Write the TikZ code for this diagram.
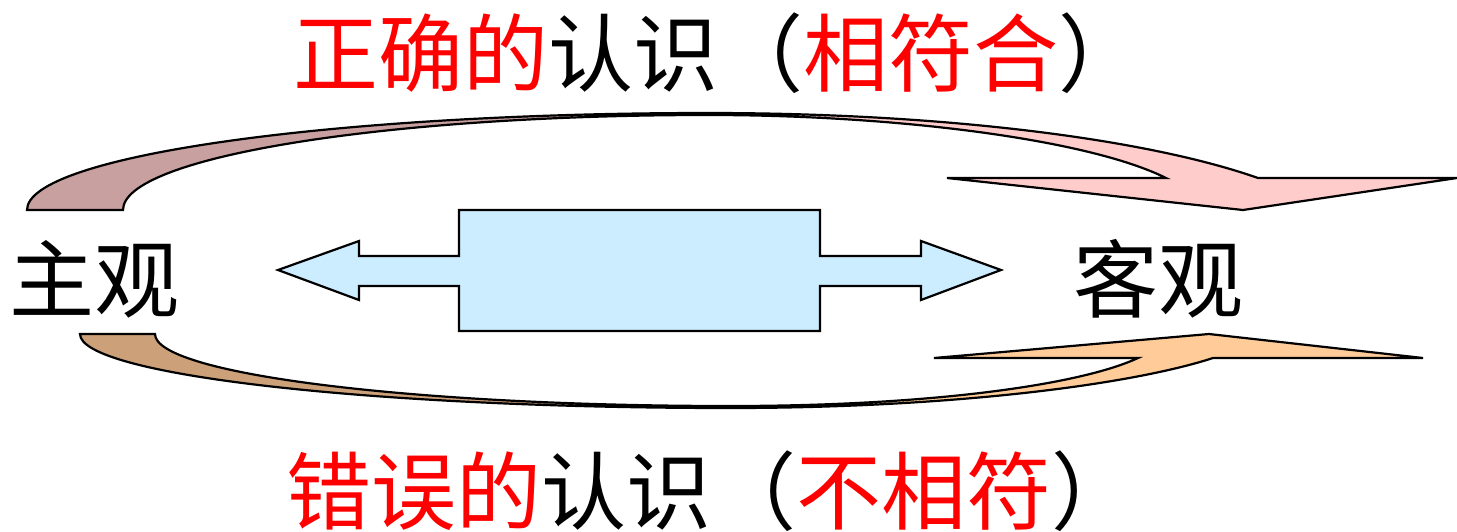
\documentclass[tikz,border=0pt]{standalone}
\usepackage{fontspec}
\newfontfamily\cjk{Noto Sans CJK SC}
\definecolor{topdark}{RGB}{201,160,160}
\definecolor{toplight}{RGB}{255,204,204}
\definecolor{botdark}{RGB}{204,161,122}
\definecolor{botlight}{RGB}{255,204,153}
\definecolor{boxfill}{RGB}{204,236,255}
\tikzset{
  outline/.style={draw=black, line width=1.1pt, line join=miter},
  lbl/.style={font=\cjk\fontsize{42.5pt}{50pt}\selectfont, inner sep=0pt, anchor=center},
  side/.style={font=\cjk\fontsize{42.5pt}{50pt}\selectfont, inner sep=0pt, anchor=center},
}
\begin{document}
\begin{tikzpicture}[x=0.5pt, y=-0.5pt]
\useasboundingbox (0,0) rectangle (1457,531);
% ---------- top curved arrow ----------
\def\toppath{(27,210) .. controls (27,156) and (332,113) .. (708,113)
  .. controls (950,113) and (1150,140) .. (1258,178)
  -- (1457,178) -- (1243,210) -- (947,178) -- (1166,178)
  .. controls (1090,140) and (900,115) .. (708,115)
  .. controls (385,115) and (123,157) .. (123,210) -- cycle}
\fill[toplight] \toppath;
\begin{scope}
  \clip (0,0) rectangle (708,260);
  \fill[topdark] \toppath;
\end{scope}
\draw[outline] \toppath;
% ---------- bottom curved arrow ----------
\def\botpath{(80,334) .. controls (80,375) and (371,408) .. (730,408)
  .. controls (950,408) and (1130,385) .. (1213,358)
  -- (1423,358) -- (1209,334) -- (934,358) -- (1138,358)
  .. controls (1080,385) and (930,406) .. (730,406)
  .. controls (412,406) and (155,374) .. (155,334) -- cycle}
\fill[botlight] \botpath;
\begin{scope}
  \clip (0,300) rectangle (730,531);
  \fill[botdark] \botpath;
\end{scope}
\draw[outline] \botpath;
% ---------- central double arrow callout ----------
\draw[outline, fill=boxfill] (278,270) -- (359,241) -- (359,256) -- (459,256) -- (459,210)
  -- (820,210) -- (820,256) -- (921,256) -- (921,241) -- (1001,270) -- (921,300)
  -- (921,286) -- (820,286) -- (820,331) -- (459,331) -- (459,286) -- (359,286)
  -- (359,300) -- cycle;
% ---------- labels ----------
\node[lbl] (top) at (718,53) {\textcolor{red}{正确的}认识（\textcolor{red}{相符合}）};
\node[lbl] (bot) at (711,491) {\textcolor{red}{错误的}认识（\textcolor{red}{不相符}）};
\node[side] (subj) at (95,279) {主观};
\node[side] (obj) at (1158,279) {客观};
\end{tikzpicture}
\end{document}
